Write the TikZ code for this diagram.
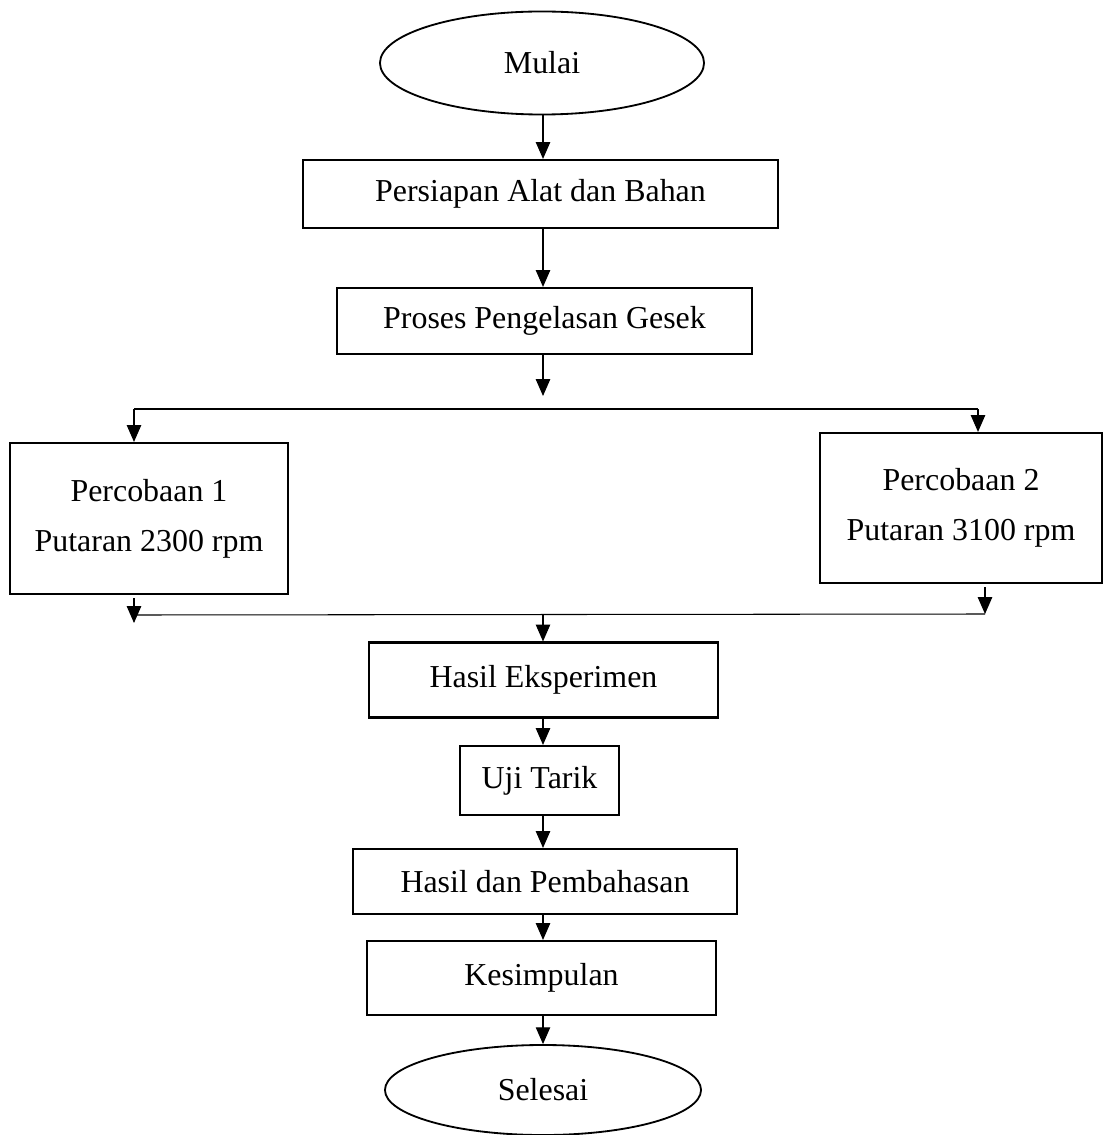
\documentclass[tikz,border=0pt]{standalone}
\usepackage{fontspec}
\setmainfont{Liberation Serif}
\usetikzlibrary{shapes}
\usetikzlibrary{arrows.meta}
\usetikzlibrary{calc}
\tikzset{block/.style={rectangle,draw=black,line width=1.5pt,inner sep=0pt,align=center,font=\fontsize{22.7}{35.5}\selectfont}}
\tikzset{term/.style={ellipse,draw=black,line width=1.3pt,inner sep=0pt,font=\fontsize{22.7}{35.5}\selectfont}}
\tikzset{line/.style={black,line width=0.75pt,-{Triangle[length=0.42cm,width=0.36cm]}}}
\tikzset{bar/.style={black,line width=0.75pt}}

\begin{document}
\begin{tikzpicture}[x=0.025cm,y=-0.025cm]
  \useasboundingbox (0,0) rectangle (1104,1135);
  % Nodes
  \node[term,minimum width=8.1cm,minimum height=2.575cm] (mulai) at (542,63) {Mulai};
  \node[block,minimum width=11.875cm,minimum height=1.7cm] (persiapan) at (540.5,194) {Persiapan Alat dan Bahan};
  \node[block,minimum width=10.375cm,minimum height=1.65cm] (proses) at (544.5,321) {Proses Pengelasan Gesek};
  \node[block,minimum width=6.95cm,minimum height=3.775cm] (coba1) at (149,518.5) {Percobaan 1\\Putaran 2300 rpm};
  \node[block,minimum width=7.05cm,minimum height=3.75cm] (coba2) at (961,508) {Percobaan 2\\Putaran 3100 rpm};
  \node[block,minimum width=8.725cm,minimum height=1.875cm] (hasil) at (543.5,680) {Hasil Eksperimen};
  \node[block,minimum width=3.975cm,minimum height=1.725cm] (uji) at (539.5,780.5) {Uji Tarik};
  \node[block,minimum width=9.6cm,minimum height=1.625cm] (bahas) at (545,881.5) {Hasil dan Pembahasan};
  \node[block,minimum width=8.725cm,minimum height=1.85cm] (simpul) at (541.5,978) {Kesimpulan};
  \node[term,minimum width=7.9cm,minimum height=2.25cm] (selesai) at (543,1090) {Selesai};

  % Branch points
  \coordinate (split) at (543,396);
  \coordinate (lt) at (134,409);
  \coordinate (rt) at (978,409);
  \coordinate (ml) at (134,615);
  \coordinate (mr) at (985,614);
  \coordinate (m1) at (134,623);
  \coordinate (mm) at (543,615);
  \coordinate (ax) at (543,0);

  % Connectors
  \draw[line] (mulai.south -| ax) -- (ax |- persiapan.north);
  \draw[line] (persiapan.south -| ax) -- (ax |- proses.north);
  \draw[line] (proses.south -| ax) -- (split);
  \draw[bar] (lt) -- (rt);
  \draw[line] (lt) -- (lt |- coba1.north);
  \draw[line] (rt) -- (rt |- coba2.north);
  \draw[line] ($(ml |- coba1.south)+(0,3)$) -- (m1);
  \draw[line] ($(mr |- coba2.south)+(0,3)$) -- (mr);
  \draw[bar] (ml) -- (mr);
  \draw[line] (mm) -- (mm |- hasil.north);
  \draw[line] (hasil.south -| ax) -- (ax |- uji.north);
  \draw[line] (uji.south -| ax) -- (ax |- bahas.north);
  \draw[line] (bahas.south -| ax) -- (ax |- simpul.north);
  \draw[line] (simpul.south -| ax) -- (ax |- selesai.north);
\end{tikzpicture}
\end{document}
